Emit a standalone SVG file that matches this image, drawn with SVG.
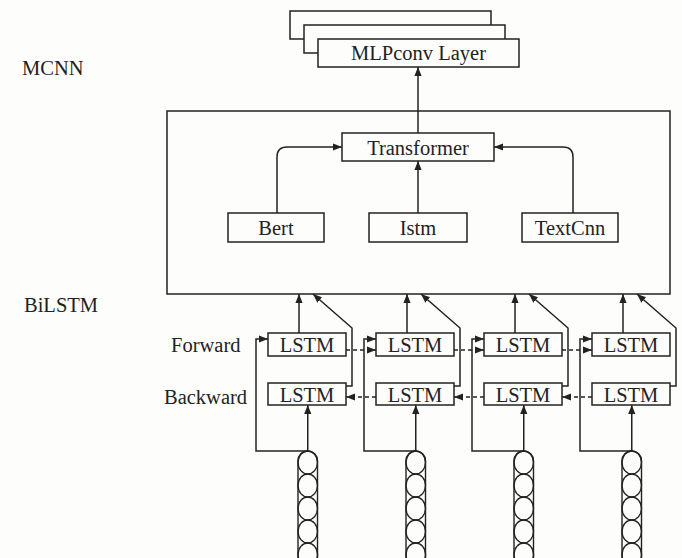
<svg xmlns="http://www.w3.org/2000/svg" width="682" height="558" viewBox="0 0 682 558">
  <defs>
    <marker id="arrow" viewBox="0 0 10 8" refX="10" refY="4" markerWidth="9" markerHeight="7.5" markerUnits="userSpaceOnUse" orient="auto">
      <path d="M0,0 L10,4 L0,8 z" fill="#222"/>
    </marker>
    <style>
      .box { fill: #fdfdfb; stroke: #222; stroke-width: 1.5; }
      .line { fill: none; stroke: #222; stroke-width: 1.5; }
      .arr { fill: none; stroke: #222; stroke-width: 1.5; marker-end: url(#arrow); }
      .dash { fill: none; stroke: #222; stroke-width: 1.5; stroke-dasharray: 4 3; marker-end: url(#arrow); }
      .t { font-family: "Liberation Serif", "Times New Roman", serif; font-size: 20.5px; fill: #222; }
      .c { text-anchor: middle; }
      .cell { fill: none; stroke: #222; stroke-width: 1.4; }
    </style>
  </defs>

  <rect x="0" y="0" width="682" height="558" fill="#fdfdfb"/>

  <!-- section labels -->
  <text class="t" x="22" y="75">MCNN</text>
  <text class="t" x="24" y="312">BiLSTM</text>
  <text class="t" x="171" y="352">Forward</text>
  <text class="t" x="164" y="404">Backward</text>

  <!-- stacked MLPconv layers -->
  <g id="mlpconv">
    <rect class="box" x="290" y="11" width="201" height="28"/>
    <rect class="box" x="304" y="25" width="201" height="28"/>
    <rect class="box" x="318" y="39" width="201" height="28"/>
    <text class="t c" x="418.5" y="60">MLPconv Layer</text>
  </g>

  <!-- MCNN container -->
  <g id="mcnn">
    <rect class="box" x="167" y="111" width="503" height="183"/>
  </g>

  <g id="transformer">
    <rect class="box" x="342" y="133" width="152" height="28"/>
    <text class="t c" x="418" y="155">Transformer</text>
  </g>
  <g id="bert">
    <rect class="box" x="228" y="213" width="96" height="29"/>
    <text class="t c" x="276" y="235">Bert</text>
  </g>
  <g id="istm">
    <rect class="box" x="369" y="213" width="98" height="29"/>
    <text class="t c" x="418" y="235">Istm</text>
  </g>
  <g id="textcnn">
    <rect class="box" x="522" y="213" width="96" height="29"/>
    <text class="t c" x="570" y="235">TextCnn</text>
  </g>

  <!-- BiLSTM cells -->
  <g id="lstm-f1"><rect class="box" x="268" y="333" width="78" height="23"/><text class="t c" x="307" y="352">LSTM</text></g>
  <g id="lstm-f2"><rect class="box" x="376" y="333" width="78" height="23"/><text class="t c" x="415" y="352">LSTM</text></g>
  <g id="lstm-f3"><rect class="box" x="484" y="333" width="78" height="23"/><text class="t c" x="523" y="352">LSTM</text></g>
  <g id="lstm-f4"><rect class="box" x="592" y="333" width="78" height="23"/><text class="t c" x="631" y="352">LSTM</text></g>
  <g id="lstm-b1"><rect class="box" x="268" y="383" width="78" height="22"/><text class="t c" x="307" y="402">LSTM</text></g>
  <g id="lstm-b2"><rect class="box" x="376" y="383" width="78" height="22"/><text class="t c" x="415" y="402">LSTM</text></g>
  <g id="lstm-b3"><rect class="box" x="484" y="383" width="78" height="22"/><text class="t c" x="523" y="402">LSTM</text></g>
  <g id="lstm-b4"><rect class="box" x="592" y="383" width="78" height="22"/><text class="t c" x="631" y="402">LSTM</text></g>

  <!-- word embedding vectors -->
  <g id="embed-1">
    <rect class="cell" x="298" y="451" width="19.5" height="120" rx="9.75"/>
    <ellipse class="cell" cx="307.75" cy="462.5" rx="9.75" ry="11.5"/>
    <ellipse class="cell" cx="307.75" cy="485.5" rx="9.75" ry="11.5"/>
    <ellipse class="cell" cx="307.75" cy="508.5" rx="9.75" ry="11.5"/>
    <ellipse class="cell" cx="307.75" cy="531.5" rx="9.75" ry="11.5"/>
    <ellipse class="cell" cx="307.75" cy="554.5" rx="9.75" ry="11.5"/>
  </g>
  <g id="embed-2" transform="translate(108,0)">
    <rect class="cell" x="298" y="451" width="19.5" height="120" rx="9.75"/>
    <ellipse class="cell" cx="307.75" cy="462.5" rx="9.75" ry="11.5"/>
    <ellipse class="cell" cx="307.75" cy="485.5" rx="9.75" ry="11.5"/>
    <ellipse class="cell" cx="307.75" cy="508.5" rx="9.75" ry="11.5"/>
    <ellipse class="cell" cx="307.75" cy="531.5" rx="9.75" ry="11.5"/>
    <ellipse class="cell" cx="307.75" cy="554.5" rx="9.75" ry="11.5"/>
  </g>
  <g id="embed-3" transform="translate(216,0)">
    <rect class="cell" x="298" y="451" width="19.5" height="120" rx="9.75"/>
    <ellipse class="cell" cx="307.75" cy="462.5" rx="9.75" ry="11.5"/>
    <ellipse class="cell" cx="307.75" cy="485.5" rx="9.75" ry="11.5"/>
    <ellipse class="cell" cx="307.75" cy="508.5" rx="9.75" ry="11.5"/>
    <ellipse class="cell" cx="307.75" cy="531.5" rx="9.75" ry="11.5"/>
    <ellipse class="cell" cx="307.75" cy="554.5" rx="9.75" ry="11.5"/>
  </g>
  <g id="embed-4" transform="translate(324,0)">
    <rect class="cell" x="298" y="451" width="19.5" height="120" rx="9.75"/>
    <ellipse class="cell" cx="307.75" cy="462.5" rx="9.75" ry="11.5"/>
    <ellipse class="cell" cx="307.75" cy="485.5" rx="9.75" ry="11.5"/>
    <ellipse class="cell" cx="307.75" cy="508.5" rx="9.75" ry="11.5"/>
    <ellipse class="cell" cx="307.75" cy="531.5" rx="9.75" ry="11.5"/>
    <ellipse class="cell" cx="307.75" cy="554.5" rx="9.75" ry="11.5"/>
  </g>

  <!-- connectors -->
  <g id="connectors">
    <path class="arr" d="M418,133 V67"/>
    <path class="arr" d="M418,213 V161"/>
    <path class="arr" d="M277,213 V157 Q277,147 287,147 H342"/>
    <path class="arr" d="M573,213 V157 Q573,147 563,147 H494"/>

    <!-- column 1 -->
    <path class="arr" d="M299,333 V294"/>
    <path class="arr" d="M346,386 H352 V328 L313,294"/>
    <path class="arr" d="M307.75,451 V405"/>
    <path class="arr" d="M307.75,451 H256 V339 H268"/>
    <!-- column 2 -->
    <path class="arr" d="M407,333 V294"/>
    <path class="arr" d="M454,386 H460 V328 L421,294"/>
    <path class="arr" d="M415.75,451 V405"/>
    <path class="arr" d="M415.75,451 H364 V339 H376"/>
    <!-- column 3 -->
    <path class="arr" d="M515,333 V294"/>
    <path class="arr" d="M562,386 H568 V328 L529,294"/>
    <path class="arr" d="M523.75,451 V405"/>
    <path class="arr" d="M523.75,451 H472 V339 H484"/>
    <!-- column 4 -->
    <path class="arr" d="M623,333 V294"/>
    <path class="arr" d="M670,386 H676 V328 L637,294"/>
    <path class="arr" d="M631.75,451 V405"/>
    <path class="arr" d="M631.75,451 H580 V339 H592"/>

    <!-- forward recurrence -->
    <path class="dash" d="M346,350 H376"/>
    <path class="dash" d="M454,350 H484"/>
    <path class="dash" d="M562,350 H592"/>
    <!-- backward recurrence -->
    <path class="dash" d="M376,397 H346"/>
    <path class="dash" d="M484,397 H454"/>
    <path class="dash" d="M592,397 H562"/>
  </g>
</svg>
